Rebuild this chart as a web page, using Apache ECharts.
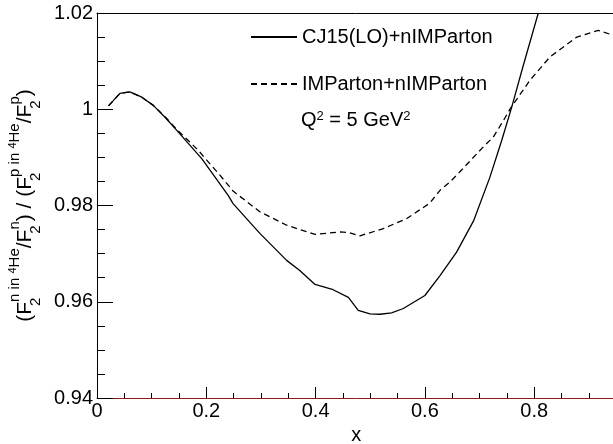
<!DOCTYPE html>
<html><head><meta charset="utf-8">
<script src="https://cdn.jsdelivr.net/npm/echarts@6/dist/echarts.min.js"></script>
<style>html,body{margin:0;padding:0;background:#fff}#c{width:613px;height:444px}</style>
</head><body><div id="c"></div>
<script>
// Solid: CJ15(LO)+nIMParton
const xSolid = [0.021,0.042,0.060,0.082,0.103,0.124,0.146,0.167,0.192,0.216,0.240,0.249,0.298,0.347,0.371,0.399,0.432,0.460,0.478,0.4995,0.518,0.539,0.5605,0.600,0.628,0.658,0.689,0.719,0.7405,0.759,0.780,0.8075];
const ySolid = [1.0007,1.0033,1.0036,1.0025,1.0008,0.9984,0.9956,0.9929,0.9897,0.9859,0.9821,0.9804,0.9742,0.9686,0.9665,0.9636,0.9625,0.9609,0.9582,0.9575,0.9574,0.9577,0.9586,0.9613,0.9655,0.9703,0.9768,0.9859,0.9935,1.0005,1.0091,1.0200];
// Dashed: IMParton+nIMParton
const xDashed = [0.021,0.042,0.060,0.082,0.103,0.124,0.146,0.167,0.185,0.204,0.225,0.249,0.298,0.347,0.399,0.445,0.460,0.481,0.524,0.567,0.609,0.628,0.646,0.664,0.707,0.725,0.744,0.756,0.792,0.829,0.878,0.917,0.944];
const yDashed = [1.0007,1.0033,1.0036,1.0025,1.0008,0.9985,0.9958,0.9935,0.9915,0.9890,0.9863,0.9830,0.9787,0.9759,0.9740,0.9745,0.9744,0.9737,0.9752,0.9773,0.9805,0.9832,0.9849,0.9870,0.9922,0.9942,0.9977,1.0001,1.0060,1.0109,1.0150,1.0164,1.0154];
const seriesNames = ['CJ15(LO)+nIMParton','IMParton+nIMParton'];
const xTicks = {min:0, max:1.0, interval:0.2};
const yTicks = {min:0.94, max:1.02, interval:0.02};

const FONT = 'Liberation Sans';
const pairs = (xs, ys) => xs.map((x, i) => [x, ys[i]]);

const chart = echarts.init(document.getElementById('c'), null, {renderer:'canvas'});
const yName = '(F{sub|2}{sup|n in }{sup4|4}{sup|He}/F{sub|2}{sup|n}) / (F{sub|2}{sup|p in }{sup4|4}{sup|He}/F{sub|2}{sup|p})';
chart.setOption({
  animation:false,
  backgroundColor:'#fff',
  textStyle:{fontFamily:FONT},
  grid:{left:97, top:13, width:546.5, bottom:46, containLabel:false, outerBoundsMode:'none'},
  legend:{
    orient:'vertical', left:250, top:26, padding:0, itemWidth:46, itemHeight:14, itemGap:25,
    itemStyle:{opacity:0},
    textStyle:{fontSize:20, color:'#000', fontFamily:FONT, lineHeight:22},
    data:seriesNames
  },
  graphic:[{
    type:'text', left:301, top:110,
    style:{
      text:'Q{s|2} = 5 GeV{s|2}',
      font:'20px "Liberation Sans"', fill:'#000',
      rich:{s:{fontSize:13, fontFamily:FONT, verticalAlign:'top', lineHeight:14}}
    }
  }],
  xAxis:[{
    type:'value', min:xTicks.min, max:xTicks.max, interval:xTicks.interval,
    name:'x', nameLocation:'middle', nameGap:26,
    nameTextStyle:{fontSize:20, color:'#000', fontFamily:FONT, padding:[0,28,0,0]},
    axisLine:{lineStyle:{color:'#8b1a1a', width:1}},
    axisTick:{inside:true, length:11, lineStyle:{color:'#000'}},
    minorTick:{show:true, splitNumber:4, length:5, lineStyle:{color:'#000'}},
    axisLabel:{fontSize:20, color:'#000', margin:3, fontFamily:FONT, showMaxLabel:false},
    splitLine:{show:false}
  },{
    type:'value', position:'top', min:xTicks.min, max:xTicks.max,
    axisLine:{show:true, lineStyle:{color:'#000', width:1}},
    axisTick:{show:false}, axisLabel:{show:false}, splitLine:{show:false}
  }],
  yAxis:{
    type:'value', min:yTicks.min, max:yTicks.max, interval:yTicks.interval,
    name:yName, nameLocation:'middle', nameGap:50, nameRotate:90,
    nameTextStyle:{
      fontSize:21, color:'#000', fontFamily:FONT, lineHeight:36,
      rich:{
        sup:{fontSize:15, fontFamily:FONT, color:'#000', verticalAlign:'top', lineHeight:17},
        sup4:{fontSize:11, fontFamily:FONT, color:'#000', verticalAlign:'top', lineHeight:11},
        sub:{fontSize:15, fontFamily:FONT, color:'#000', verticalAlign:'bottom', lineHeight:15, width:0}
      }
    },
    axisLine:{show:true, lineStyle:{color:'#000', width:1}},
    axisTick:{inside:true, length:16, lineStyle:{color:'#000'}},
    minorTick:{show:true, splitNumber:4, length:8, lineStyle:{color:'#000'}},
    axisLabel:{fontSize:20, color:'#000', margin:4, fontFamily:FONT},
    splitLine:{show:false}
  },
  series:[{
    name:seriesNames[0], type:'line', symbol:'none', data:pairs(xSolid, ySolid),
    lineStyle:{color:'#000', width:1.3, type:'solid'}, itemStyle:{color:'#000'}
  },{
    name:seriesNames[1], type:'line', symbol:'none', data:pairs(xDashed, yDashed),
    lineStyle:{color:'#000', width:1.3, type:[6,4]}, itemStyle:{color:'#000'}
  }]
});
</script></body></html>
